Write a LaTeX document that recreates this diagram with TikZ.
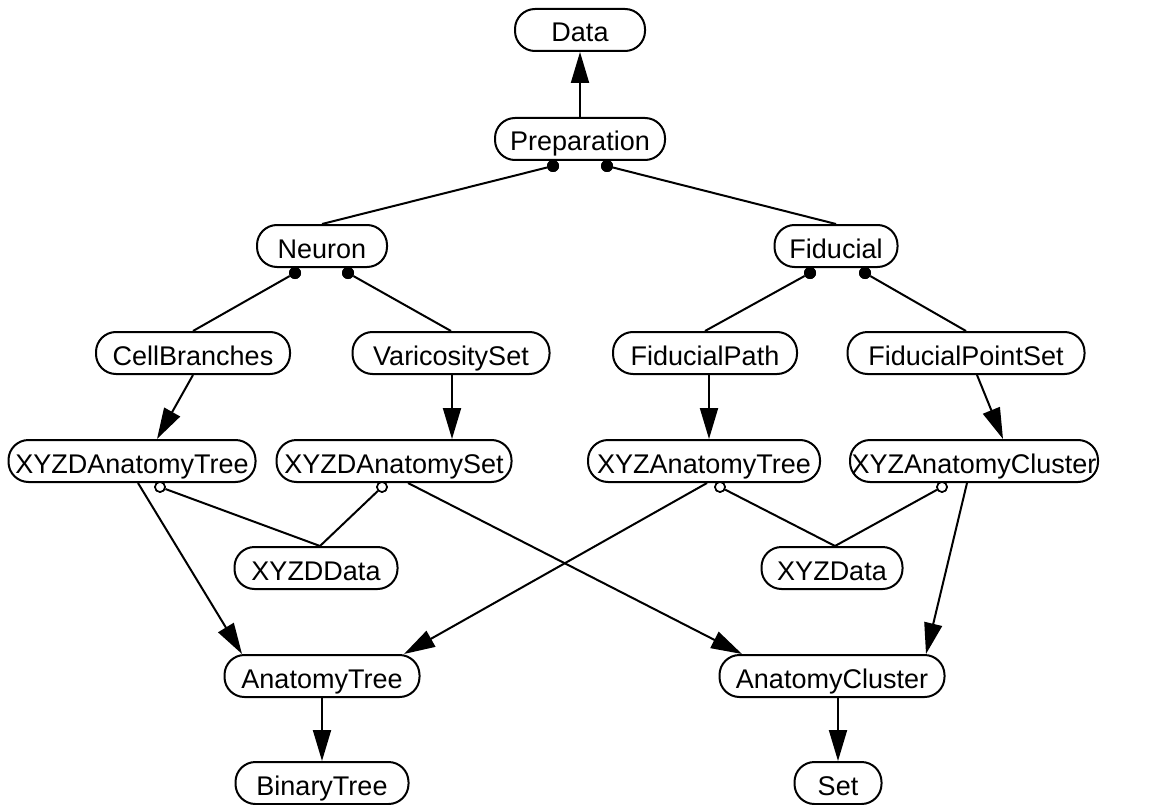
\documentclass[tikz,border=0pt]{standalone}
\usepackage{fontspec}
\setmainfont{Liberation Sans}
\usetikzlibrary{arrows.meta}
\begin{document}
\begin{tikzpicture}[x=1pt,y=-1pt,
  cls/.style={draw,line width=2pt,rounded corners=20pt,minimum height=42pt,
    inner sep=0pt,text height=24pt,text depth=0pt,
    font=\fontsize{27}{30}\selectfont},
  link/.style={line width=2pt},
  gen/.style={link,-{Triangle[length=31pt,width=18pt]}},
  fulldot/.style={circle,fill=black,inner sep=0pt,minimum size=12pt},
  opendot/.style={circle,draw,fill=white,line width=1.6pt,inner sep=0pt,minimum size=10pt}]
\useasboundingbox (0,0) rectangle (1161,805);

% class boxes
\node[cls,minimum width=130pt] (data)   at (580,30)  {Data};
\node[cls,minimum width=170pt] (prep)   at (580,139) {Preparation};
\node[cls,minimum width=130pt] (neuron) at (322,246) {Neuron};
\node[cls,minimum width=123pt] (fid)    at (836,246) {Fiducial};
\node[cls,minimum width=194pt] (cellbr) at (193,353) {CellBranches};
\node[cls,minimum width=197pt] (varset) at (451,353) {VaricositySet};
\node[cls,minimum width=184pt] (fpath)  at (705,353) {FiducialPath};
\node[cls,minimum width=237pt] (fpset)  at (966,353) {FiducialPointSet};
\node[cls,minimum width=247pt] (xdtree) at (132,461) {XYZDAnatomyTree};
\node[cls,minimum width=235pt] (xdset)  at (394,461) {XYZDAnatomySet};
\node[cls,minimum width=232pt] (xtree)  at (704,461) {XYZAnatomyTree};
\node[cls,minimum width=248pt] (xclus)  at (974,461) {XYZAnatomyCluster};
\node[cls,minimum width=163pt] (xddata) at (316,568) {XYZDData};
\node[cls,minimum width=141pt] (xdata)  at (832,568) {XYZData};
\node[cls,minimum width=195pt] (atree)  at (322,676) {AnatomyTree};
\node[cls,minimum width=225pt] (aclus)  at (832,676) {AnatomyCluster};
\node[cls,minimum width=173pt] (btree)  at (322,783) {BinaryTree};
\node[cls,minimum width=87pt]  (set)    at (838,783) {Set};

% composition ports (filled dots)
\node[fulldot] (pL) at ([xshift=-27pt,yshift=-5pt]prep.south) {};
\node[fulldot] (pR) at ([xshift=27pt,yshift=-5pt]prep.south) {};
\node[fulldot] (nL) at ([xshift=-27pt,yshift=-5pt]neuron.south) {};
\node[fulldot] (nR) at ([xshift=26pt,yshift=-5pt]neuron.south) {};
\node[fulldot] (fL) at ([xshift=-26pt,yshift=-5pt]fid.south) {};
\node[fulldot] (fR) at ([xshift=29pt,yshift=-5pt]fid.south) {};

% data ports (open circles)
\node[opendot] (oA) at ([xshift=28pt,yshift=-4pt]xdtree.south) {};
\node[opendot] (oB) at ([xshift=-12pt,yshift=-4pt]xdset.south) {};
\node[opendot] (oC) at ([xshift=16pt,yshift=-4pt]xtree.south) {};
\node[opendot] (oD) at ([xshift=-32pt,yshift=-4pt]xclus.south) {};

% generalisation arrows
\draw[gen] (prep.north) -- (data.south);
\draw[gen] (cellbr.south) -- ([xshift=25pt]xdtree.north);
\draw[gen] ([xshift=1pt]varset.south) -- ([xshift=58pt]xdset.north);
\draw[gen] ([xshift=4pt]fpath.south) -- ([xshift=5pt]xtree.north);
\draw[gen] ([xshift=11pt]fpset.south) -- ([xshift=29pt]xclus.north);
\draw[gen] ([xshift=6pt]xdtree.south) -- ([xshift=-80pt]atree.north);
\draw[gen] ([xshift=14pt]xdset.south) -- ([xshift=-90pt]aclus.north);
\draw[gen] ([xshift=3pt]xtree.south) -- ([xshift=82pt]atree.north);
\draw[gen] ([xshift=-7pt]xclus.south) -- ([xshift=94pt]aclus.north);
\draw[gen] (atree.south) -- (btree.north);
\draw[gen] ([xshift=6pt]aclus.south) -- (set.north);

% composition links
\draw[link] (pL) -- (neuron.north);
\draw[link] (pR) -- (fid.north);
\draw[link] (nL) -- (cellbr.north);
\draw[link] (nR) -- (varset.north);
\draw[link] (fL) -- (fpath.north);
\draw[link] (fR) -- (fpset.north);

% data links
\draw[link] (oA) -- ([xshift=4pt]xddata.north);
\draw[link] (oB) -- ([xshift=4pt]xddata.north);
\draw[link] (oC) -- ([xshift=3pt]xdata.north);
\draw[link] (oD) -- ([xshift=3pt]xdata.north);

% redraw ports on top of the links
\foreach \p in {pL,pR,nL,nR,fL,fR}
  \fill (\p) circle (6pt);
\foreach \p in {oA,oB,oC,oD}
  \draw[line width=1.6pt,fill=white] (\p) circle (5pt);
\end{tikzpicture}
\end{document}
